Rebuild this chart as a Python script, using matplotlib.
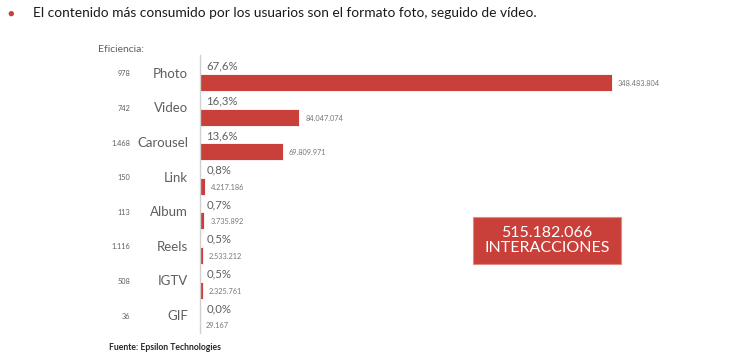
import matplotlib
matplotlib.use("Agg")
import matplotlib.pyplot as plt
from matplotlib.patches import Rectangle

plt.rcParams['font.family'] = ['Lato', 'DejaVu Sans']

categories = ["Photo", "Video", "Carousel", "Link", "Album", "Reels", "IGTV", "GIF"]
interactions = [348483804, 84047074, 69809971, 4217186, 3735892, 2533212, 2325761, 29167]
value_labels = ["348.483.804", "84.047.074", "69.809.971", "4.217.186",
                "3.735.892", "2.533.212", "2.325.761", "29.167"]
shares = ["67,6%", "16,3%", "13,6%", "0,8%", "0,7%", "0,5%", "0,5%", "0,0%"]
efficiency = ["978", "742", "1.468", "150", "113", "1.116", "508", "36"]
total_label = "515.182.066\nINTERACCIONES"

W, H = 732, 363
red = "#C9403A"
gray = "#5f5f5f"

fig = plt.figure(figsize=(W / 100, H / 100), dpi=100)

# axes: left edge at x=200px, top 55px, bottom 333px
ax_l, ax_r, ax_t, ax_b = 200, 700, 55, 333
ax = fig.add_axes([ax_l / W, 1 - ax_b / H, (ax_r - ax_l) / W, (ax_b - ax_t) / H])
px_per_unit = 34.6
row0 = 82.5
ax.set_ylim((ax_b - row0) / px_per_unit, (ax_t - row0) / px_per_unit)
xmax = 348483804 * (ax_r - ax_l) / 412
ax.set_xlim(0, xmax)

ys = list(range(len(categories)))
ax.barh(ys, interactions, height=0.49, color=red, edgecolor="white", linewidth=0.6)

for y, v, vl, s, c, e in zip(ys, interactions, value_labels, shares, categories, efficiency):
    ax.text(v + xmax * 0.012, y + 0.03, vl, fontsize=5.3, color="#777777",
            va="center", ha="left")
    ax.text(xmax * 0.013, y - 0.47, s, fontsize=8.2, color=gray, va="center", ha="left")
    ax.text(-xmax * 0.024, y - 0.25, c, fontsize=9.5, color=gray, va="center", ha="right")
    ax.text(-xmax * 0.14, y - 0.25, e, fontsize=5.3, color=gray, va="center", ha="right")

for side in ["top", "right", "bottom"]:
    ax.spines[side].set_visible(False)
ax.spines["left"].set_color("#d0d0d0")
ax.spines["left"].set_linewidth(1.0)
ax.set_xticks([])
ax.set_yticks([])
ax.patch.set_alpha(0)

# title with bullet
fig.text(7 / W, 1 - 13 / H, "\u25cf", fontsize=8, color=red, va="center", ha="left")
fig.text(33 / W, 1 - 13 / H,
         "El contenido más consumido por los usuarios son el formato foto, seguido de vídeo.",
         fontsize=9.9, color="#1a1a1a", va="center", ha="left")

fig.text(98 / W, 1 - 50 / H, "Eficiencia:", fontsize=7.5, color=gray, va="center", ha="left")

# total box
bx, by, bw, bh = 473, 217, 148, 47
fig.patches.append(Rectangle((bx / W, 1 - (by + bh) / H), bw / W, bh / H,
                             transform=fig.transFigure, facecolor=red,
                             edgecolor="#e08a85", linewidth=0.8))
fig.text((bx + bw / 2) / W, 1 - (by + bh / 2) / H, total_label, fontsize=11.5,
         color="white", ha="center", va="center", linespacing=1.1)

fig.text(109 / W, 1 - 348 / H, "Fuente: Epsilon Technologies", fontsize=6.2,
         fontweight="bold", color="#262626", va="center", ha="left")

fig.savefig("out.png", dpi=100)
